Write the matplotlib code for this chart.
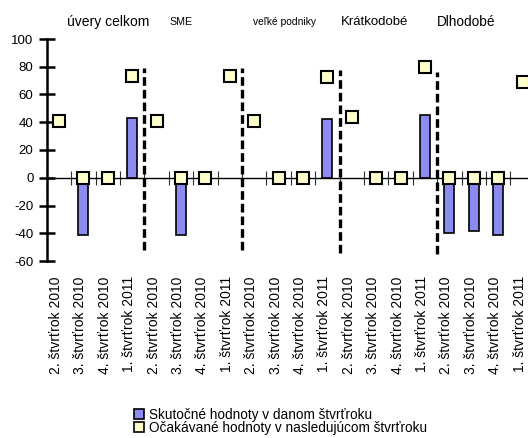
import numpy as np
import matplotlib
matplotlib.use("Agg")
import matplotlib.pyplot as plt
from matplotlib.patches import Patch
import matplotlib.transforms as mtransforms

plt.rcParams['font.family'] = ['Liberation Sans', 'DejaVu Sans']
plt.rcParams['axes.unicode_minus'] = False

categories = ["2. štvrťrok 2010", "3. štvrťrok 2010", "4. štvrťrok 2010", "1. štvrťrok 2011"] * 5
actual = [np.nan, -41, 0, 43,
          np.nan, -41, 0, np.nan,
          np.nan, 0, 0, 42,
          np.nan, 0, 0, 45.5,
          -40, -38.5, -41.5, np.nan]
expected = [41, 0, 0, 73,
            41, 0, 0, 73,
            41, 0, 0, 72.5,
            44, 0, 0, 80,
            0, 0, 0, 69]
group_names = ["úvery celkom", "SME", "veľké podniky", "Krátkodobé", "Dlhodobé"]
divider_pos = [3.5, 7.5, 11.5, 15.5]
divider_top = [79, 79, 78, 76]
divider_bottom = [-52, -52, -54, -55]
legend_labels = ["Skutočné hodnoty v danom štvrťroku", "Očakávané hodnoty v nasledujúcom štvrťroku"]

bar_color = '#8c8cf0'
marker_color = '#ffffcc'

fig = plt.figure(figsize=(5.28, 4.38), dpi=100)
ax = fig.add_axes([46.7/528, 1-261/438, 488/528, 222/438])
x = np.arange(len(categories))

ax.bar(x, actual, width=0.42, color=bar_color, edgecolor='black', linewidth=1.2, zorder=2)
ax.plot(x, expected, linestyle='none', marker='s', markersize=8, markerfacecolor=marker_color,
        markeredgecolor='black', markeredgewidth=1.5, zorder=4, clip_on=False)

for xp, yt, yb in zip(divider_pos, divider_top, divider_bottom):
    ax.plot([xp, xp], [yb, yt], color='black', linewidth=2.4, linestyle=(0, (2.6, 1.2)), zorder=3)

ax.set_xlim(-0.5, len(categories) - 0.5)
ax.set_ylim(-60, 100)
ax.set_yticks(np.arange(-60, 101, 20))
for s in ['top', 'right', 'bottom']:
    ax.spines[s].set_visible(False)
ax.spines['left'].set_linewidth(1.8)
ax.tick_params(axis='y', direction='inout', length=11, width=1.8, labelsize=9.5, pad=4)

ax.set_xticks(x)
ax.set_xticklabels(categories, rotation=90, fontsize=10, va='top', ha='center')
ax.tick_params(axis='x', length=0, pad=11)
offset = mtransforms.ScaledTranslation(-3/100, 0, fig.dpi_scale_trans)
for lab in ax.get_xticklabels():
    lab.set_transform(lab.get_transform() + offset)

ylo, yhi = ax.get_ylim()
zero_frac = (0 - ylo) / (yhi - ylo)
sec = ax.secondary_xaxis(zero_frac)
sec.set_xticks(np.arange(-0.5, len(categories), 1.0))
sec.set_xticklabels([])
sec.tick_params(direction='inout', length=10, width=0.8, colors='#303030')
sec.spines['bottom'].set_linewidth(1.0)

group_x = [2.03, 5.0, 9.26, 12.95, 16.68]
group_fs = [10, 7.7, 7.4, 9.5, 9.8]
for name, gx, fs in zip(group_names, group_x, group_fs):
    ax.text(gx, 112, name, ha='center', va='center', fontsize=fs, clip_on=False)

handles = [Patch(facecolor=bar_color, edgecolor='black', linewidth=1.2),
           Patch(facecolor=marker_color, edgecolor='black', linewidth=1.2)]
fig.legend(handles, legend_labels, loc='upper left', bbox_to_anchor=(134/528, 1-408/438),
           frameon=False, fontsize=9.8, handlelength=0.75, handleheight=0.75, handletextpad=0.35,
           labelspacing=-0.1, borderpad=0, borderaxespad=0)

fig.savefig('out.png', dpi=100)
